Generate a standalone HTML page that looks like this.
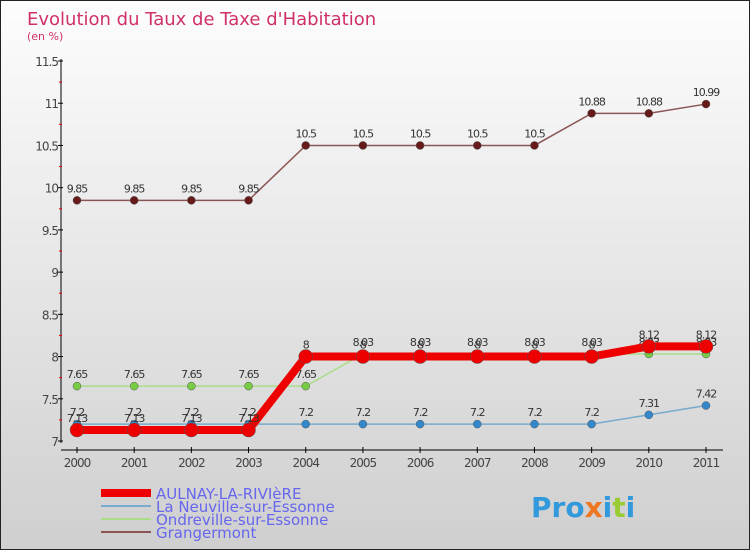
<!DOCTYPE html>
<html><head><meta charset="utf-8"><style>
body{margin:0}
#c{width:750px;height:550px;position:relative;background:linear-gradient(#fdfdfd,#cfcfcf);box-sizing:border-box;border:1px solid #222;font-family:"DejaVu Sans","Liberation Sans",sans-serif;overflow:hidden}
svg text{font-family:"DejaVu Sans","Liberation Sans",sans-serif}
</style></head><body>
<div id="c">
<svg id="s" width="750" height="550">
<text x="26" y="24" font-size="18" fill="#d0306a">Evolution du Taux de Taxe d'Habitation</text>
<text x="26" y="39" font-size="11" fill="#d0306a">(en %)</text>
<g id="g"></g>
<text x="530" y="516" font-size="28" font-weight="bold" fill="#3399dd">Pro<tspan fill="#ee7722">x</tspan>i<tspan fill="#99cc33">t</tspan>i</text>
</svg></div>
<script>
const years=[2000,2001,2002,2003,2004,2005,2006,2007,2008,2009,2010,2011];
const yTicks=[7,7.5,8,8.5,9,9.5,10,10.5,11,11.5];
const aulnay=[7.13,7.13,7.13,7.13,8,8,8,8,8,8,8.12,8.12];
const neuville=[7.2,7.2,7.2,7.2,7.2,7.2,7.2,7.2,7.2,7.2,7.31,7.42];
const ondreville=[7.65,7.65,7.65,7.65,7.65,8.03,8.03,8.03,8.03,8.03,8.03,8.03];
const granger=[9.85,9.85,9.85,9.85,10.5,10.5,10.5,10.5,10.5,10.88,10.88,10.99];
const names=['AULNAY-LA-RIVIèRE','La Neuville-sur-Essonne','Ondreville-sur-Essonne','Grangermont'];
const NS='http://www.w3.org/2000/svg';
const g=document.getElementById('g');
const X=i=>76+i*(705-76)/11;
const Y=v=>440-(v-7)*(380/4.5);
function el(t,a,p){const e=document.createElementNS(NS,t);for(const k in a)e.setAttribute(k,a[k]);(p||g).appendChild(e);return e;}
let ax=el('line',{x1:60,y1:58,x2:60,y2:442,stroke:'#000'});


let xx=el('line',{x1:60,y1:449,x2:722,y2:449,stroke:'#000'});


yTicks.forEach((v,i)=>{
 el('line',{x1:57,y1:Y(v),x2:62,y2:Y(v),stroke:'#000'});
 if(i<yTicks.length-1)el('line',{x1:58,y1:Y(v+0.25),x2:61,y2:Y(v+0.25),stroke:'#e00'});
 const t=el('text',{x:57,y:Y(v)+5,'font-size':12,fill:'#444','text-anchor':'end','letter-spacing':'-1'});
 t.textContent=v;
 
 
});
years.forEach((y,i)=>{
 el('line',{x1:X(i),y1:446,x2:X(i),y2:452,stroke:'#000'});
 const t=el('text',{x:X(i),y:466,'font-size':12,fill:'#444','text-anchor':'middle','letter-spacing':'-1'});
 t.textContent=y;
 
 
});
function series(d,col,w,r,dot,nm){
 const p=el('polyline',{points:d.map((v,i)=>X(i)+','+Y(v)).join(' '),fill:'none',stroke:col,'stroke-width':w});
 
 
 d.forEach((v,i)=>{
  const c=el('circle',{cx:X(i),cy:Y(v),r:r,fill:dot,stroke:'#555','stroke-width':0.5});
  
  
  const t=el('text',{x:X(i),y:Y(v)-8,'font-size':11,fill:'#333','text-anchor':'middle','letter-spacing':'-1'});
  t.textContent=v;
  
  
 });
}
series(granger,'#8a5555',1.5,4,'#661a1a','grangermont');
series(ondreville,'#aadd88',1.5,4,'#77cc44','ondreville');
series(neuville,'#77aacc',1.5,4,'#3388cc','neuville');
series(aulnay,'#ee0000',8,7,'#ee0000','aulnay');
const lc=['#ee0000','#77aacc','#aadd88','#8a5555'],lw=[8,2,2,2];
names.forEach((n,i)=>{
 const y=492+i*13;
 const l=el('line',{x1:100,y1:y,x2:150,y2:y,stroke:lc[i],'stroke-width':lw[i]});
 
 
 const t=el('text',{x:155,y:y+6,'font-size':15,fill:'#6666ee'});
 t.textContent=n;
 
 
});
</script>
</body></html>
